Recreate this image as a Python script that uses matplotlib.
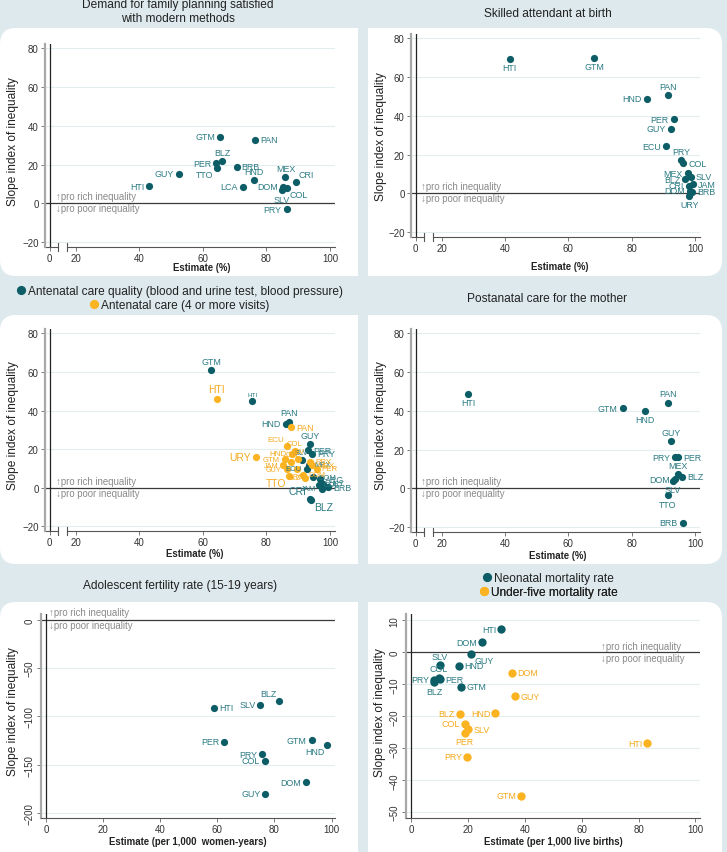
import matplotlib
matplotlib.use('Agg')
import matplotlib.pyplot as plt
import matplotlib.transforms as mtransforms
from matplotlib.patches import FancyBboxPatch, Rectangle
from matplotlib.lines import Line2D

# ---------------- data ----------------
# Demand for family planning satisfied with modern methods
fp_codes = ['GTM', 'PAN', 'BLZ', 'PER', 'TTO', 'BRB', 'GUY', 'HTI', 'HND', 'LCA', 'MEX', 'CRI', 'DOM', 'SLV', 'COL', 'PRY']
fp_est = [65.4, 76.4, 66.0, 64.1, 64.3, 70.6, 52.4, 43.1, 76.1, 72.5, 86.0, 89.3, 85.1, 84.8, 86.4, 86.4]
fp_sii = [34.5, 32.9, 21.9, 20.7, 18.1, 19.0, 15.3, 8.8, 11.9, 8.6, 13.8, 11.2, 8.6, 6.7, 7.9, -2.9]

# Skilled attendant at birth
sba_codes = ['HTI', 'GTM', 'PAN', 'HND', 'PER', 'GUY', 'ECU', 'PRY', 'COL', 'MEX', 'BLZ', 'SLV', 'CRI', 'JAM', 'DOM', 'BRB', 'URY']
sba_est = [41.5, 68.2, 91.6, 84.8, 93.3, 92.5, 90.9, 95.6, 96.3, 97.8, 96.9, 98.7, 98.2, 99.3, 98.4, 99.1, 98.2]
sba_sii = [69.6, 69.8, 50.8, 48.9, 38.3, 33.5, 24.4, 17.4, 15.7, 10.5, 7.3, 8.6, 4.0, 4.7, 1.4, 0.9, -1.2]

# Antenatal care quality (blood and urine test, blood pressure)
ancq_codes = ['GTM', 'HTI', 'PAN', 'HND', 'GUY', 'PER', 'PRY', 'SLV', 'ECU', 'MEX', 'DOM', 'ARG', 'URY', 'BRB', 'JAM', 'COL', 'CRI', 'BLZ']
ancq_est = [62.6, 75.6, 87.0, 86.1, 93.7, 93.2, 94.5, 91.1, 92.7, 93.5, 94.7, 96.8, 97.9, 99.5, 97.4, 96.5, 93.6, 94.0]
ancq_sii = [61.2, 45.0, 34.3, 33.1, 22.7, 19.3, 17.6, 14.1, 9.8, 12.0, 5.5, 4.3, 2.1, 0.3, -0.5, 1.5, -6.0, -6.6]

# Antenatal care (4 or more visits)
anc4_codes = ['HTI', 'PAN', 'URY', 'ECU', 'COL', 'HND', 'GTM', 'JAM', 'GUY', 'SLV', 'CRI', 'PRY', 'MEX', 'PER', 'ARG', 'DOM', 'BLZ', 'TTO']
anc4_est = [64.3, 87.9, 76.7, 86.6, 89.0, 88.1, 85.8, 85.3, 86.4, 90.0, 87.9, 93.7, 94.5, 95.8, 89.5, 91.6, 92.3, 87.2]
anc4_sii = [46.2, 31.4, 15.7, 21.6, 18.8, 17.6, 14.6, 11.5, 9.5, 15.0, 13.3, 13.3, 11.5, 9.8, 9.8, 6.7, 5.0, 6.0]

# Postnatal care for the mother
pnc_codes = ['HTI', 'GTM', 'HND', 'PAN', 'GUY', 'PRY', 'PER', 'MEX', 'BLZ', 'DOM', 'SLV', 'TTO', 'BRB']
pnc_est = [28.4, 77.2, 84.2, 91.6, 92.5, 93.8, 94.8, 94.5, 96.0, 93.8, 93.1, 91.4, 96.1]
pnc_sii = [49.0, 41.4, 40.0, 44.3, 24.6, 16.1, 16.1, 7.4, 5.9, 4.8, 3.8, -3.6, -17.7]

# Adolescent fertility rate (15-19 years)
afr_codes = ['HTI', 'SLV', 'BLZ', 'PER', 'PRY', 'COL', 'GTM', 'HND', 'DOM', 'GUY']
afr_est = [59.0, 75.1, 81.7, 62.5, 75.6, 76.8, 93.0, 98.5, 90.9, 76.8]
afr_sii = [-90.8, -87.7, -83.9, -126.4, -139.2, -145.8, -124.7, -129.9, -168.2, -180.0]

# Neonatal mortality rate
nmr_codes = ['HTI', 'DOM', 'GUY', 'SLV', 'HND', 'COL', 'PRY', 'PER', 'BLZ', 'GTM']
nmr_est = [31.7, 24.9, 21.1, 10.0, 16.7, 9.6, 7.9, 10.2, 8.1, 17.5]
nmr_sii = [7.3, 3.2, -0.5, -4.0, -4.2, -7.9, -8.5, -8.4, -9.4, -10.7]

# Under-five mortality rate
u5_codes = ['DOM', 'GUY', 'BLZ', 'HND', 'COL', 'SLV', 'PER', 'PRY', 'HTI', 'GTM']
u5_est = [35.4, 36.6, 17.0, 29.6, 18.8, 20.1, 18.8, 19.7, 83.1, 38.7]
u5_sii = [-6.3, -13.8, -19.2, -19.1, -22.3, -24.0, -25.2, -32.6, -28.4, -44.8]

pct_ticks = [20, 40, 60, 80, 100]
pct_yticks = [-20, 0, 20, 40, 60, 80]
afr_xticks = [0, 20, 40, 60, 80, 100]
afr_yticks = [-200, -150, -100, -50, 0]
mort_xticks = [0, 20, 40, 60, 80, 100]
mort_yticks = [-50, -40, -30, -20, -10, 0, 10]

# ---------------- label placement (styling) ----------------
fp_pos = {'GTM': 'l', 'PAN': 'r', 'BLZ': 't', 'PER': 'l', 'TTO': 'bl', 'BRB': 'r', 'GUY': 'l', 'HTI': 'l',
          'HND': 't', 'LCA': 'l', 'MEX': 't', 'CRI': 'tr', 'DOM': 'l', 'SLV': 'b', 'COL': 'br', 'PRY': 'l'}
sba_pos = {'HTI': 'b', 'GTM': 'b', 'PAN': 't', 'HND': 'l', 'PER': 'l', 'GUY': 'l', 'ECU': 'l', 'PRY': 't',
           'COL': 'r', 'MEX': 'l', 'BLZ': 'l', 'SLV': 'r', 'CRI': 'l', 'JAM': 'r', 'DOM': 'l', 'BRB': 'r', 'URY': 'b'}
ancq_pos = {'GTM': 't', 'HTI': 't', 'PAN': 't', 'HND': 'l', 'GUY': 't', 'PER': 'r', 'PRY': 'r', 'SLV': 't',
            'ECU': 'l', 'MEX': 'r', 'DOM': 'r', 'ARG': 'r', 'URY': 'r', 'BRB': 'r', 'JAM': 'l', 'COL': 'r',
            'CRI': 'tl', 'BLZ': 'br'}
ancq_size = {'HTI': 4.5, 'CRI': 7.5, 'BLZ': 7.5, 'SLV': 5.5, 'ECU': 5.5, 'MEX': 5.5, 'DOM': 5.5,
             'URY': 5.5, 'JAM': 5.5, 'COL': 5.5}
anc4_pos = {'HTI': 't', 'PAN': 'r', 'URY': 'l', 'ECU': 'tl', 'COL': 't', 'HND': 'l', 'GTM': 'l', 'JAM': 'l',
            'GUY': 'l', 'SLV': 't', 'CRI': 't', 'PRY': 'r', 'MEX': 'r', 'PER': 'r', 'ARG': 'b', 'DOM': 'r',
            'BLZ': 'l', 'TTO': 'bl'}
anc4_size = {'HTI': 7.5, 'URY': 7.5, 'TTO': 7.5, 'ECU': 5.8, 'COL': 5.5, 'HND': 5.8, 'GTM': 5.5, 'JAM': 5.2,
             'GUY': 5.2, 'SLV': 5.2, 'CRI': 5.2, 'PRY': 5.8, 'MEX': 5.8, 'PER': 5.8, 'ARG': 5.2, 'DOM': 5.2,
             'BLZ': 5.2}
pnc_pos = {'HTI': 'b', 'GTM': 'l', 'HND': 'b', 'PAN': 't', 'GUY': 't', 'PRY': 'l', 'PER': 'r', 'MEX': 't',
           'BLZ': 'r', 'DOM': 'l', 'SLV': 'b', 'TTO': 'b', 'BRB': 'l'}
afr_pos = {'HTI': 'r', 'SLV': 'l', 'BLZ': 'tl', 'PER': 'l', 'PRY': 'l', 'COL': 'l', 'GTM': 'l', 'HND': 'bl',
           'DOM': 'l', 'GUY': 'l'}
nmr_pos = {'HTI': 'l', 'DOM': 'l', 'GUY': 'br', 'SLV': 't', 'HND': 'r', 'COL': 't', 'PRY': 'l', 'PER': 'r',
           'BLZ': 'b', 'GTM': 'r'}
u5_pos = {'DOM': 'r', 'GUY': 'r', 'BLZ': 'l', 'HND': 'l', 'COL': 'l', 'SLV': 'r', 'PER': 'b', 'PRY': 'l',
          'HTI': 'l', 'GTM': 'l'}

TEAL = '#0d5d66'
TEAL_LBL = '#2a7a83'
ORANGE = '#fbb321'
ORANGE_LBL = '#f4a91c'
BG = '#dde9ed'
GRID = '#e3edf0'
GRAYTXT = '#8a8a8a'
LFS = 6.4

plt.rcParams['font.family'] = ['Liberation Sans', 'DejaVu Sans']

W, H = 727, 853
fig = plt.figure(figsize=(W / 100, H / 100), dpi=100)
fig.patch.set_facecolor(BG)
bg = fig.add_axes([0, 0, 1, 1], zorder=-5)
bg.set_xlim(0, W)
bg.set_ylim(H, 0)
bg.axis('off')


def panel(l, r, t, b, side):
    bg.add_patch(FancyBboxPatch((l, t), r - l, b - t, boxstyle='round,pad=0,rounding_size=16',
                                fc='white', ec='none'))
    if side == 'left':
        bg.add_patch(Rectangle(((l + r) / 2, t), (r - l) / 2, b - t, fc='white', ec='none'))
    else:
        bg.add_patch(Rectangle((l, t), (r - l) / 2, b - t, fc='white', ec='none'))


panel(0, 358, 29, 277, 'left')
panel(368, 722, 29, 277, 'right')
panel(0, 358, 316, 565, 'left')
panel(368, 722, 316, 565, 'right')
panel(0, 358, 603, 880, 'left')
panel(368, 722, 603, 880, 'right')

OFF = {'r': (3.6, 0, 'left', 'center'), 'l': (-3.6, 0, 'right', 'center'),
       't': (0, 3.0, 'center', 'bottom'), 'b': (0, -3.0, 'center', 'top'),
       'tr': (2.0, 2.0, 'left', 'bottom'), 'tl': (-2.0, 2.0, 'right', 'bottom'),
       'br': (2.0, -1.5, 'left', 'top'), 'bl': (-2.0, -1.5, 'right', 'top')}


def make_ax(l, r, t, b, xlim, ylim, xticks, xlabels, yticks, rot_y=False, broken=False, x0=0.0):
    ax = fig.add_axes([l / W, 1 - b / H, (r - l) / W, (b - t) / H])
    ax.set_facecolor('none')
    ax.set_xlim(xlim)
    ax.set_ylim(ylim)
    for s in ['top', 'right']:
        ax.spines[s].set_visible(False)
    ax.spines['left'].set_color('#a8a8a8')
    ax.spines['left'].set_linewidth(1.6)
    ax.set_xticks(xticks)
    ax.set_xticklabels(xlabels)
    ax.set_yticks(yticks)
    if rot_y:
        ax.set_yticklabels([str(v).replace('-', '\u2212') for v in yticks], rotation=90, va='center')
    else:
        ax.set_yticklabels([str(v).replace('-', '\u2212') for v in yticks])
    ax.tick_params(axis='both', direction='out', length=3, width=0.6, color='#666666',
                   labelsize=7, labelcolor='#333333', pad=1.5)
    for yv in yticks:
        if yv != 0:
            ax.axhline(yv, color=GRID, lw=0.8, zorder=0)
    ax.axhline(0, color='#3a3a3a', lw=0.9, zorder=1)
    ax.axvline(x0, color='#222222', lw=0.9, zorder=1)
    if broken:
        ax.spines['bottom'].set_visible(False)
        tr = mtransforms.blended_transform_factory(ax.transData, ax.transAxes)
        b1, b2 = 14.3, 17.2
        ax.plot([xlim[0], b1], [0, 0], transform=tr, color='#555555', lw=0.8, clip_on=False)
        ax.plot([b2, xlim[1]], [0, 0], transform=tr, color='#555555', lw=0.8, clip_on=False)
        for bx in (b1, b2):
            ax.plot([bx, bx], [-0.018, 0.018], transform=tr, color='#555555', lw=0.8, clip_on=False)
    else:
        ax.spines['bottom'].set_color('#555555')
        ax.spines['bottom'].set_linewidth(0.8)
    return ax


def draw_points(ax, xs, ys, codes, pos, color, lcolor, s=27, sizes=None):
    ax.scatter(xs, ys, s=s, color=color, zorder=3, linewidths=0, clip_on=False)
    for x, y, c in zip(xs, ys, codes):
        dx, dy, ha, va = OFF[pos.get(c, 'r')]
        fs = sizes.get(c, LFS) if sizes else LFS
        ax.annotate(c, (x, y), xytext=(dx, dy), textcoords='offset points', ha=ha, va=va,
                    fontsize=fs, color=lcolor, zorder=4, annotation_clip=False)


def ineq_text(ax, x, up_px, down_px):
    ax.annotate('\u2191pro rich inequality', (x, 0), xytext=(0, up_px * 0.72), textcoords='offset points',
                ha='left', va='center', fontsize=6.9, color=GRAYTXT, annotation_clip=False)
    ax.annotate('\u2193pro poor inequality', (x, 0), xytext=(0, -down_px * 0.72), textcoords='offset points',
                ha='left', va='center', fontsize=6.9, color=GRAYTXT, annotation_clip=False)


PCT_XLIM = (10.3, 101.6)
PCT_YLIM = (-22.5, 82.3)
FAKE0 = 11.8
pct_xt = [FAKE0] + pct_ticks
pct_xl = ['0'] + [str(v) for v in pct_ticks]

# Panel 1
ax1 = make_ax(45, 335, 45, 248, PCT_XLIM, PCT_YLIM, pct_xt, pct_xl, pct_yticks, broken=True, x0=FAKE0)
draw_points(ax1, fp_est, fp_sii, fp_codes, fp_pos, TEAL, TEAL_LBL)
ineq_text(ax1, 13.8, 7, 5)

# Panel 2
ax2 = make_ax(411, 700, 35, 238, PCT_XLIM, PCT_YLIM, pct_xt, pct_xl, pct_yticks, broken=True, x0=FAKE0)
draw_points(ax2, sba_est, sba_sii, sba_codes, sba_pos, TEAL, TEAL_LBL)
ineq_text(ax2, 13.4, 7, 5)

# Panel 3
ax3 = make_ax(45, 335, 330, 532, PCT_XLIM, PCT_YLIM, pct_xt, pct_xl, pct_yticks, broken=True, x0=FAKE0)
draw_points(ax3, ancq_est, ancq_sii, ancq_codes, ancq_pos, TEAL, TEAL_LBL, sizes=ancq_size)
draw_points(ax3, anc4_est, anc4_sii, anc4_codes, anc4_pos, ORANGE, ORANGE_LBL, sizes=anc4_size)
ineq_text(ax3, 13.8, 7, 5)

# Panel 4
ax4 = make_ax(411, 700, 330, 533, PCT_XLIM, PCT_YLIM, pct_xt, pct_xl, pct_yticks, broken=True, x0=FAKE0)
draw_points(ax4, pnc_est, pnc_sii, pnc_codes, pnc_pos, TEAL, TEAL_LBL)
ineq_text(ax4, 13.4, 7, 5)

# Panel 5
ax5 = make_ax(41, 335, 615, 819, (-1.75, 101.2), (-205.2, 6.2), afr_xticks, [str(v) for v in afr_xticks],
              afr_yticks, rot_y=True)
draw_points(ax5, afr_est, afr_sii, afr_codes, afr_pos, TEAL, TEAL_LBL)
ineq_text(ax5, 1.2, 7.5, 5)

# Panel 6
ax6 = make_ax(406, 700, 615, 819, (-1.87, 101.6), (-51.8, 12.0), mort_xticks, [str(v) for v in mort_xticks],
              mort_yticks, rot_y=True)
draw_points(ax6, nmr_est, nmr_sii, nmr_codes, nmr_pos, TEAL, TEAL_LBL, s=36)
draw_points(ax6, u5_est, u5_sii, u5_codes, u5_pos, ORANGE, ORANGE_LBL, s=36)
ineq_text(ax6, 66.9, 6.6, 5.7)

# ---------------- titles, axis titles, legends ----------------
TFS = 8.6
bg.text(178, 5, 'Demand for family planning satisfied', ha='center', va='center', fontsize=TFS, color='#222')
bg.text(178, 18.5, 'with modern methods', ha='center', va='center', fontsize=TFS, color='#222')
bg.text(548, 13.5, 'Skilled attendant at birth', ha='center', va='center', fontsize=TFS, color='#222')
bg.text(547, 299, 'Postanatal care for the mother', ha='center', va='center', fontsize=TFS, color='#222')
bg.text(180, 586, 'Adolescent fertility rate (15-19 years)', ha='center', va='center', fontsize=TFS, color='#222')

for (x, y) in [(13, 142), (381, 137), (13, 426), (381, 426), (13, 712), (380, 713)]:
    bg.text(x, y, 'Slope index of inequality', rotation=90, ha='center', va='center', fontsize=8.6, color='#222')

for (x, y, s) in [(202, 268, 'Estimate (%)'), (560, 267, 'Estimate (%)'), (195, 554, 'Estimate (%)'),
                  (558, 556, 'Estimate (%)'), (188, 842, 'Estimate (per 1,000  women-years)'),
                  (553, 842, 'Estimate (per 1,000 live births)')]:
    bg.text(x, y, s, ha='center', va='center', fontsize=6.9, fontweight='bold', color='#222')


def legend_row(cx, cy, color, text):
    h = Line2D([], [], marker='o', ls='', color=color, markersize=5.6)
    leg = bg.legend(handles=[h], labels=[text], loc='center', bbox_to_anchor=(cx, cy),
                    bbox_transform=bg.transData, frameon=False, fontsize=8.6, handlelength=0.7,
                    handletextpad=0.25, borderpad=0, borderaxespad=0, labelcolor='#222')
    bg.add_artist(leg)


legend_row(180, 292, TEAL, 'Antenatal care quality (blood and urine test, blood pressure)')
legend_row(180, 306, ORANGE, 'Antenatal care (4 or more visits)')
legend_row(548, 579, TEAL, 'Neonatal mortality rate')
legend_row(549, 593, ORANGE, 'Under-five mortality rate')

fig.savefig('out.png', dpi=100, facecolor=BG)
